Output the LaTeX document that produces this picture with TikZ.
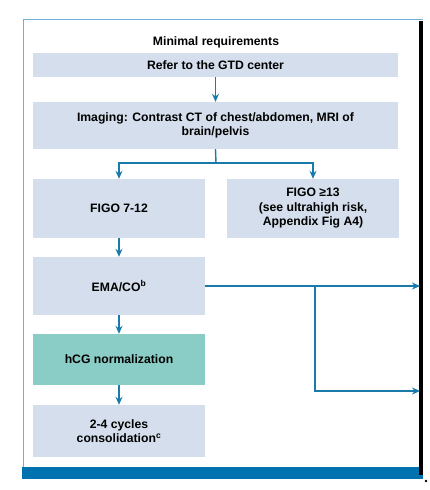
\documentclass[tikz,border=0pt]{standalone}
\usepackage{fontspec}
\setmainfont{Liberation Sans}
\usetikzlibrary{arrows.meta}

\definecolor{boxfill}{HTML}{D5DEEC}
\definecolor{tealfill}{HTML}{8ACCC6}
\definecolor{flowblue}{HTML}{1A7BAA}
\definecolor{barblue}{HTML}{0072B0}
\definecolor{framblue}{HTML}{6CB0D8}

\begin{document}
\begin{tikzpicture}[x=1pt,y=-1pt,font=\fontsize{12.2}{14.5}\selectfont\bfseries,
  stepbox/.style={fill=boxfill,inner sep=0pt,align=center},
  flow/.style={flowblue,line width=1.4pt,-{Stealth[length=8pt,width=7pt]}}]
  \useasboundingbox (0,0) rectangle (430,490);
  % frame
  \draw[framblue,line width=1pt] (23,467) -- (23,19) -- (423,19);
  \fill[barblue] (22,467) rectangle (423,479);
  \draw[line width=3.5pt] (421,21) -- (421,475);
  \fill (426,481) circle (1.4pt);
  \node (title) at (216,42) {Minimal requirements};
  % boxes
  \node[stepbox,minimum width=365,minimum height=24] (gtd) at (215.5,65) {Refer to the GTD center};
  \node[stepbox,minimum width=365,minimum height=47] (img) at (215.5,125.5)
    {Imaging: Contrast CT of chest/abdomen, MRI of\\brain/pelvis};
  \node[stepbox,minimum width=172,minimum height=59] (low) at (119,208.5) {FIGO 7-12};
  \node[stepbox,minimum width=172,minimum height=59] (high) at (313,208.5)
    {FIGO ≥13\\(see ultrahigh risk,\\Appendix Fig A4)};
  \node[stepbox,minimum width=172,minimum height=58] (ema) at (119,286) {EMA/CO\textsuperscript{b}};
  \node[stepbox,fill=tealfill,minimum width=172,minimum height=51] (norm) at (119,359.5) {hCG normalization};
  \node[stepbox,minimum width=172,minimum height=52] (cons) at (119,431)
    {2-4 cycles\\consolidation\textsuperscript{c}};
  % connectors
  \coordinate (split) at (216,163);
  \coordinate (fork) at (315,286);
  \coordinate (out1) at (420,286);
  \coordinate (out2) at (420,391);
  \draw[flow] (gtd) -- (img);
  \draw[flowblue,line width=1.4pt] (img.south) -- (split);
  \draw[flow] (split) -| (low.north);
  \draw[flow] (split) -| (high.north);
  \draw[flow] (low) -- (ema);
  \draw[flow] (ema.east) -- (out1);
  \draw[flow] (fork) |- (out2);
  \draw[flow] (ema) -- (norm);
  \draw[flow] (norm) -- (cons);
\end{tikzpicture}
\end{document}
